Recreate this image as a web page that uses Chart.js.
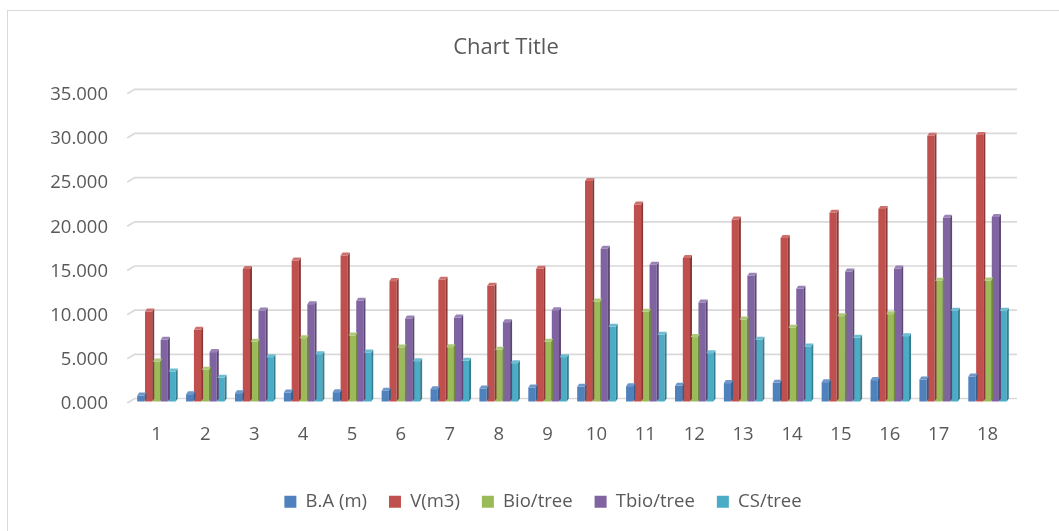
<!DOCTYPE html>
<html>
<head>
<meta charset="utf-8">
<script src="https://cdn.jsdelivr.net/npm/chart.js@4.4.1/dist/chart.umd.min.js"></script>
<style>
  html, body { margin: 0; padding: 0; background: #ffffff; overflow: hidden; }
  #wrap { position: relative; width: 1059px; height: 531px; overflow: hidden; }
  #chart { position: absolute; left: 0; top: 0; }
  #frame { position: absolute; left: 7px; top: 10px; width: 1200px; height: 700px;
           border: 1px solid #d9d9d9; pointer-events: none; }
</style>
</head>
<body>
<div id="wrap">
  <canvas id="chart" width="1059" height="531"></canvas>
  <div id="frame"></div>
</div>
<script>
// Categories (plot numbers)
const categories = ['1','2','3','4','5','6','7','8','9','10','11','12','13','14','15','16','17','18'];

// Series values
const baValues   = [0.68, 0.83, 0.94, 1.02, 1.06, 1.21, 1.40, 1.47, 1.59, 1.66, 1.74, 1.77, 2.08, 2.11, 2.19, 2.42, 2.49, 2.83];
const vValues    = [10.19, 8.12, 14.99, 15.97, 16.53, 13.63, 13.78, 13.10, 15.02, 24.95, 22.31, 16.23, 20.61, 18.50, 21.37, 21.78, 30.09, 30.16];
const bioValues  = [4.53, 3.59, 6.76, 7.17, 7.47, 6.12, 6.15, 5.85, 6.76, 11.33, 10.15, 7.29, 9.29, 8.34, 9.66, 9.89, 13.67, 13.70];
const tbioValues = [6.98, 5.59, 10.30, 11.02, 11.40, 9.40, 9.51, 8.98, 10.34, 17.29, 15.48, 11.21, 14.23, 12.76, 14.72, 15.06, 20.80, 20.88];
const csValues   = [3.40, 2.68, 5.02, 5.36, 5.55, 4.57, 4.60, 4.34, 5.02, 8.46, 7.55, 5.47, 6.98, 6.23, 7.21, 7.40, 10.27, 10.27];

// Series names
const seriesNames = ['B.A (m)', 'V(m3)', 'Bio/tree', 'Tbio/tree', 'CS/tree'];

// Value axis tick labels
const yTickLabels = ['0.000', '5.000', '10.000', '15.000', '20.000', '25.000', '30.000', '35.000'];

const frontColors = ['#4F81BD', '#C0504D', '#9BBB59', '#8064A2', '#4BACC6'];
const sideColors  = ['#385D8A', '#8C3836', '#71893F', '#5C4776', '#357D91'];
const topColors   = ['#6F97CA', '#CD716F', '#AEC87A', '#9982B5', '#6DBDD2'];

const DX = 2;     // bar depth, horizontal
const DY = 3;     // bar depth, vertical
const LEGEND_SHIFT = 37;
const TEXT = '#595959';
const FONT = "'Open Sans', sans-serif";

// back wall gridlines with a short floor edge on the left, plus 3D bar faces
const bar3d = {
  id: 'bar3d',
  afterLayout(chart) {
    // legend sits centred on the whole canvas rather than the plot
    chart.legend.left += LEGEND_SHIFT;
    chart.legend.right += LEGEND_SHIFT;
  },
  beforeDatasetsDraw(chart) {
    const ctx = chart.ctx;
    const y = chart.scales.y;
    const a = chart.chartArea;
    ctx.save();
    ctx.strokeStyle = '#d9d9d9';
    ctx.lineWidth = 1.7;
    y.ticks.forEach(t => {
      const py = y.getPixelForValue(t.value);
      ctx.beginPath();
      ctx.moveTo(a.left - 4.8, py + 4.5);
      ctx.lineTo(a.left + 2.7, py);
      ctx.lineTo(a.right + 5, py);
      ctx.stroke();
    });
    ctx.restore();
    ctx.save();
    ctx.translate(0, DY);
  },
  afterDatasetsDraw(chart) {
    const ctx = chart.ctx;
    chart.data.datasets.forEach((ds, i) => {
      const meta = chart.getDatasetMeta(i);
      meta.data.forEach(bar => {
        const p = bar.getProps(['x', 'y', 'base', 'width'], true);
        const l = p.x - p.width / 2, r = p.x + p.width / 2;
        ctx.fillStyle = sideColors[i];
        ctx.beginPath();
        ctx.moveTo(r, p.y);
        ctx.lineTo(r + DX, p.y - DY);
        ctx.lineTo(r + DX, p.base - DY);
        ctx.lineTo(r, p.base);
        ctx.closePath();
        ctx.fill();
        ctx.fillStyle = topColors[i];
        ctx.beginPath();
        ctx.moveTo(l, p.y);
        ctx.lineTo(l + DX, p.y - DY);
        ctx.lineTo(r + DX, p.y - DY);
        ctx.lineTo(r, p.y);
        ctx.closePath();
        ctx.fill();
      });
    });
    ctx.restore();
  }
};

const seriesValues = [baValues, vValues, bioValues, tbioValues, csValues];

new Chart(document.getElementById('chart'), {
  type: 'bar',
  data: {
    labels: categories,
    datasets: seriesValues.map((vals, i) => ({
      label: seriesNames[i],
      data: vals,
      backgroundColor: frontColors[i],
      borderWidth: 0,
      clip: false,
      categoryPercentage: 0.8,
      barPercentage: 0.92
    }))
  },
  options: {
    responsive: false,
    animation: false,
    devicePixelRatio: 1,
    layout: { padding: { left: 0, right: 47, top: 0, bottom: 10 } },
    plugins: {
      title: {
        display: true,
        text: 'Chart Title',
        color: TEXT,
        font: { family: FONT, size: 22, weight: 'normal' },
        padding: { top: 35, bottom: 27.9 }
      },
      legend: {
        position: 'bottom',
        labels: {
          color: TEXT,
          font: { family: FONT, size: 18.5 },
          boxWidth: 12,
          boxHeight: 12,
          padding: 22
        }
      },
      tooltip: { enabled: false }
    },
    scales: {
      x: {
        grid: { display: false, drawTicks: false },
        border: { display: false },
        ticks: { color: TEXT, font: { family: FONT, size: 18.5 }, padding: 25 },
        afterFit(scale) { scale.height = 72; }
      },
      y: {
        min: 0,
        max: 35,
        grid: { display: false, drawTicks: false },
        border: { display: false },
        ticks: {
          stepSize: 5,
          color: TEXT,
          font: { family: FONT, size: 18.5 },
          padding: 24,
          labelOffset: 5.5,
          callback: (v) => yTickLabels[Math.round(v / 5)]
        },
        afterFit(scale) { scale.width = 132; }
      }
    }
  },
  plugins: [bar3d]
});
</script>
</body>
</html>
